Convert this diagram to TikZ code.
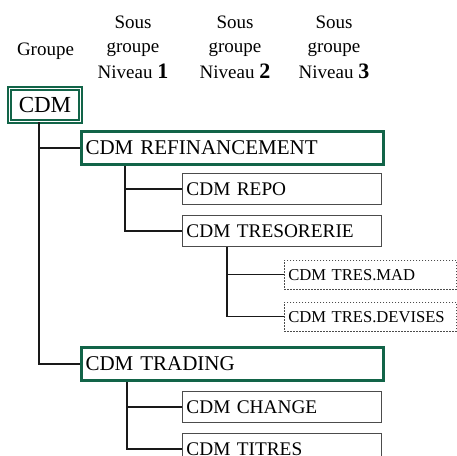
\documentclass[tikz,border=0pt]{standalone}
\usepackage{fontspec}
\setmainfont{Liberation Serif}
\definecolor{cdmgreen}{RGB}{18,100,72}
\begin{document}
\begin{tikzpicture}[x=1pt,y=-1pt,
  hdr/.style={anchor=base, inner sep=0pt, font=\fontsize{19}{19}\selectfont},
  lvlone/.style={draw=cdmgreen, line width=3pt, anchor=north west, minimum height=33pt,
     text width=294pt, inner xsep=4pt, inner ysep=0pt, align=left, font=\fontsize{21}{21}\selectfont},
  lvltwo/.style={draw=black!70, line width=0.9pt, anchor=north west, minimum height=31pt,
     text width=191pt, inner xsep=4pt, inner ysep=0pt, align=left, font=\fontsize{19.3}{19.3}\selectfont},
  lvlthree/.style={draw=black!70, line width=0.7pt, dash pattern=on 1.5pt off 1.5pt, anchor=north west,
     minimum height=29pt, text width=164pt, inner xsep=4pt, inner ysep=0pt, align=left,
     font=\fontsize{16.6}{16.6}\selectfont},
  conn/.style={draw=black!90, line width=1.1pt}]
\useasboundingbox (0,0) rectangle (457,455);
\clip (0,0) rectangle (457,455);
% headers
\node[hdr] (g) at (45.5,55) {Groupe};
\node[hdr] (s1a) at (133,28) {Sous};
\node[hdr] (s1b) at (133,52) {groupe};
\node[hdr] (s1c) at (133,78) {Niveau \textbf{\fontsize{22}{22}\selectfont 1}};
\node[hdr] (s2a) at (235,28) {Sous};
\node[hdr] (s2b) at (235,52) {groupe};
\node[hdr] (s2c) at (235,78) {Niveau \textbf{\fontsize{22}{22}\selectfont 2}};
\node[hdr] (s3a) at (334,28) {Sous};
\node[hdr] (s3b) at (334,52) {groupe};
\node[hdr] (s3c) at (334,78) {Niveau \textbf{\fontsize{22}{22}\selectfont 3}};
% boxes
\node[draw=cdmgreen, double=white, line width=1.7pt, double distance=1.4pt,
      minimum width=71pt, minimum height=33pt, inner sep=0pt,
      font=\fontsize{23}{23}\selectfont] (cdm) at (45,105) {CDM};
\node[lvlone] (refi) at (80,130) {CDM REFINANCEMENT};
\node[lvltwo] (repo) at (182,173) {CDM REPO};
\node[lvltwo] (treso) at (182,215) {CDM TRESORERIE};
\node[lvlthree] (mad) at (284,260) {\mbox{CDM TRES.MAD}};
\node[lvlthree] (dev) at (284,302) {\mbox{CDM TRES.DEVISES}};
\node[lvlone] (trad) at (80,346) {CDM TRADING};
\node[lvltwo] (chg) at (182,391) {CDM CHANGE};
\node[lvltwo] (tit) at (182,433) {CDM TITRES};
% connectors
\draw[conn] ([xshift=-6pt]cdm.south) |- (refi.west);
\draw[conn] ([xshift=-6pt]cdm.south) |- (trad.west);
\draw[conn] ([xshift=45pt]refi.south west) |- (repo.west);
\draw[conn] ([xshift=45pt]refi.south west) |- (treso.west);
\draw[conn] ([xshift=45pt]treso.south west) |- (mad.west);
\draw[conn] ([xshift=45pt]treso.south west) |- (dev.west);
\draw[conn] ([xshift=47pt]trad.south west) |- (chg.west);
\draw[conn] ([xshift=47pt]trad.south west) |- (tit.west);
\end{tikzpicture}
\end{document}
